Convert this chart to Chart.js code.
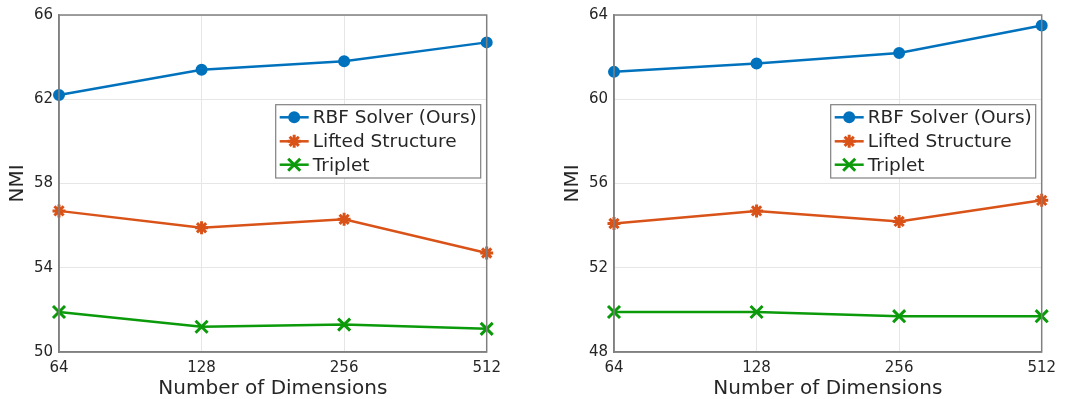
<!DOCTYPE html>
<html><head><meta charset="utf-8">
<script src="https://cdn.jsdelivr.net/npm/chart.js@4"></script>
<style>
html,body{margin:0;padding:0;background:#fff;width:1065px;height:399px;overflow:hidden}
.c{position:absolute;top:0;width:510px;height:399px}
</style></head><body>
<div class="c" style="left:0"><canvas id="a"></canvas></div>
<div class="c" style="left:555px"><canvas id="b"></canvas></div>
<script>
const categories = ['64','128','256','512'];
const leftRBF = [62.2, 63.4, 63.8, 64.7];
const leftLifted = [56.7, 55.9, 56.3, 54.7];
const leftTriplet = [51.9, 51.2, 51.3, 51.1];
const rightRBF = [61.3, 61.7, 62.2, 63.5];
const rightLifted = [54.1, 54.7, 54.2, 55.2];
const rightTriplet = [49.9, 49.9, 49.7, 49.7];
const leftTicks = [50, 54, 58, 62, 66];
const rightTicks = [48, 52, 56, 60, 64];
const seriesNames = ['RBF Solver (Ours)', 'Lifted Structure', 'Triplet'];

const FONT = "'DejaVu Sans', sans-serif";
const TXT = '#262626';
const COLORS = ['#0072BD', '#D95319', '#0A9A0A'];
const STYLES = ['circle', 'star', 'crossRot'];
const RADII = [5, 6.5, 8.5];
const PBW = [2, 3, 3];

const boxPlugin = {
  id: 'box',
  afterDraw(chart) {
    const {ctx, chartArea: a} = chart;
    ctx.save();
    ctx.strokeStyle = '#808080';
    ctx.lineWidth = 1.5;
    ctx.strokeRect(a.left, a.top, a.right - a.left, a.bottom - a.top);
    const bw = 205, bh = 73.3;
    const bx = a.right - 211, by = 104.7;
    ctx.fillStyle = '#fff';
    ctx.fillRect(bx, by, bw, bh);
    ctx.strokeStyle = '#808080';
    ctx.lineWidth = 1.2;
    ctx.strokeRect(bx, by, bw, bh);
    const rows = [12.6, 36.6, 60];
    chart.data.datasets.forEach((ds, i) => {
      const y = by + rows[i];
      ctx.strokeStyle = ds.borderColor;
      ctx.lineWidth = 2.5;
      ctx.beginPath();
      ctx.moveTo(bx + 4, y);
      ctx.lineTo(bx + 33, y);
      ctx.stroke();
      ctx.fillStyle = ds.borderColor;
      ctx.strokeStyle = ds.borderColor;
      ctx.lineWidth = PBW[i];
      Chart.helpers.drawPoint(ctx, {pointStyle: ds.pointStyle, radius: RADII[i], borderWidth: PBW[i], rotation: 0}, bx + 18.5, y);
      ctx.fillStyle = TXT;
      ctx.font = '18.5px ' + FONT;
      ctx.textBaseline = 'middle';
      ctx.textAlign = 'left';
      ctx.fillText(ds.label, bx + 37, y + 1);
    });
    ctx.restore();
  }
};

function makeChart(id, rbf, lifted, triplet, ticks) {
  const data = [rbf, lifted, triplet];
  new Chart(document.getElementById(id), {
    type: 'line',
    data: {
      labels: categories,
      datasets: seriesNames.map((n, i) => ({
        label: n,
        data: data[i],
        borderColor: COLORS[i],
        backgroundColor: COLORS[i],
        pointBackgroundColor: COLORS[i],
        pointBorderColor: COLORS[i],
        pointStyle: STYLES[i],
        pointRadius: RADII[i],
        pointBorderWidth: PBW[i],
        borderWidth: 2.5,
        tension: 0,
        clip: false
      }))
    },
    options: {
      responsive: true,
      maintainAspectRatio: false,
      animation: false,
      events: [],
      layout: {padding: {top: 15, right: 23.3, left: 0, bottom: 0}},
      plugins: {legend: {display: false}, tooltip: {enabled: false}},
      scales: {
        x: {
          type: 'category',
          offset: false,
          grid: {color: '#e6e6e6', drawTicks: false, lineWidth: 1},
          border: {color: '#808080', width: 1.5},
          ticks: {color: TXT, font: {family: FONT, size: 15}, padding: 7, maxRotation: 0, autoSkip: false},
          title: {display: true, text: 'Number of Dimensions', color: TXT, font: {family: FONT, size: 20, lineHeight: 1}, padding: {top: 0, bottom: 0}},
          afterFit(s) { s.height = 47; }
        },
        y: {
          min: ticks[0],
          max: ticks[ticks.length - 1],
          afterBuildTicks(s) { s.ticks = ticks.map(v => ({value: v})); },
          grid: {color: '#e6e6e6', drawTicks: false, lineWidth: 1},
          border: {color: '#808080', width: 1.5},
          ticks: {color: TXT, font: {family: FONT, size: 15}, padding: 6},
          title: {display: true, text: 'NMI', color: TXT, font: {family: FONT, size: 20, lineHeight: 1.2}, padding: {top: 6, bottom: 0}},
          afterFit(s) { s.width = 59; }
        }
      }
    },
    plugins: [boxPlugin]
  });
}
makeChart('a', leftRBF, leftLifted, leftTriplet, leftTicks);
makeChart('b', rightRBF, rightLifted, rightTriplet, rightTicks);
</script>
</body></html>
